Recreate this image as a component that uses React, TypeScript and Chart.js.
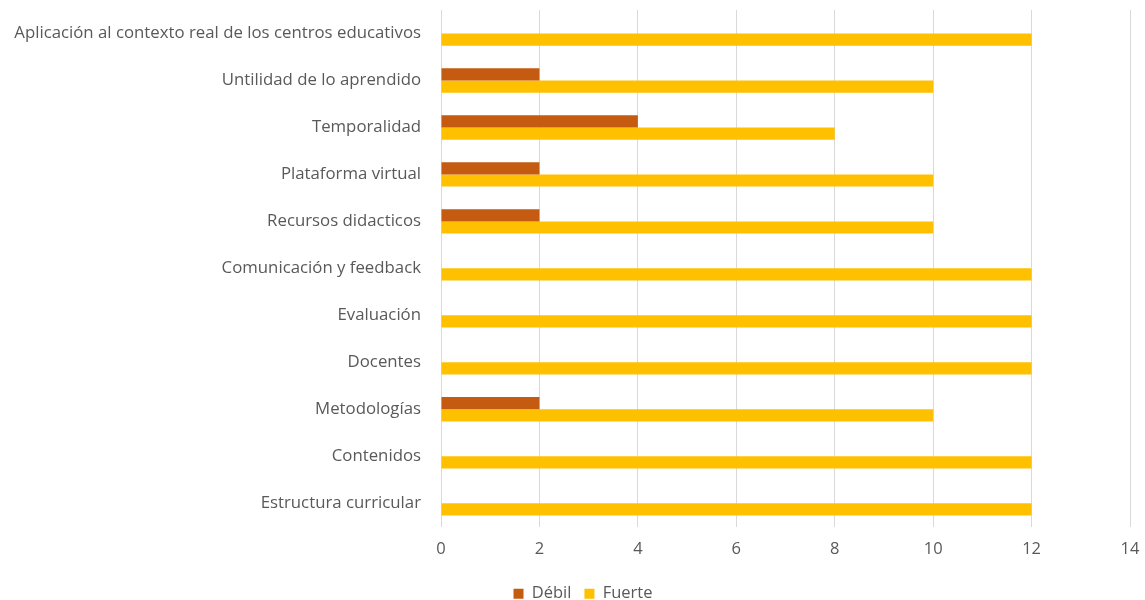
import React, { useEffect, useRef } from "react";
import { Chart, registerables } from "chart.js";

Chart.register(...registerables);

const categories = [
  "Aplicación al contexto real de los centros educativos",
  "Untilidad de lo aprendido",
  "Temporalidad",
  "Plataforma virtual",
  "Recursos didacticos",
  "Comunicación y feedback",
  "Evaluación",
  "Docentes",
  "Metodologías",
  "Contenidos",
  "Estructura curricular",
];
const debil = [0, 2, 4, 2, 2, 0, 0, 0, 2, 0, 0];
const fuerte = [12, 10, 8, 10, 10, 12, 12, 12, 10, 12, 12];
const xMin = 0;
const xMax = 14;
const xStep = 2;

const FONT = "'Open Sans', sans-serif";
const TEXT = "#595959";

const shiftLegend = {
  id: "shiftLegend",
  afterLayout(chart: any) {
    const l = chart.legend;
    if (l) {
      l.left += 18;
      l.right += 18;
    }
  },
};

export default function App() {
  const ref = useRef<HTMLCanvasElement | null>(null);
  useEffect(() => {
    if (!ref.current) return;
    const chart = new Chart(ref.current, {
      type: "bar",
      data: {
        labels: categories,
        datasets: [
          { label: "Débil", data: debil, backgroundColor: "#C55A11", categoryPercentage: 0.52, barPercentage: 1 },
          { label: "Fuerte", data: fuerte, backgroundColor: "#FFC000", categoryPercentage: 0.52, barPercentage: 1 },
        ],
      },
      options: {
        indexAxis: "y",
        animation: false,
        responsive: false,
        maintainAspectRatio: false,
        layout: { padding: { left: 0, right: 15, top: 10, bottom: -12 } },
        scales: {
          x: {
            min: xMin,
            max: xMax,
            ticks: { stepSize: xStep, color: TEXT, font: { family: FONT, size: 16.5 }, padding: 13 },
            grid: { color: "#d9d9d9", drawTicks: false },
            border: { display: false },
            afterFit: (scale: any) => {
              scale.paddingLeft = 0;
              scale.paddingRight = 0;
            },
          },
          y: {
            ticks: { color: TEXT, font: { family: FONT, size: 16.8 }, padding: 20, autoSkip: false },
            grid: { display: false, drawTicks: false },
            border: { display: false },
            afterFit: (scale: any) => {
              scale.width = 441;
              scale.paddingTop = 0;
              scale.paddingBottom = 0;
            },
          },
        },
        plugins: {
          legend: {
            position: "bottom",
            labels: { boxWidth: 10, boxHeight: 10, color: TEXT, font: { family: FONT, size: 16.5 }, padding: 13 },
          },
          tooltip: { enabled: false },
        },
      },
      plugins: [shiftLegend],
    });
    return () => chart.destroy();
  }, []);
  return (
    <div style={{ position: "absolute", left: 0, top: 0, width: 1145, height: 600, background: "#fff" }}>
      <canvas ref={ref} width={1145} height={600} />
    </div>
  );
}
